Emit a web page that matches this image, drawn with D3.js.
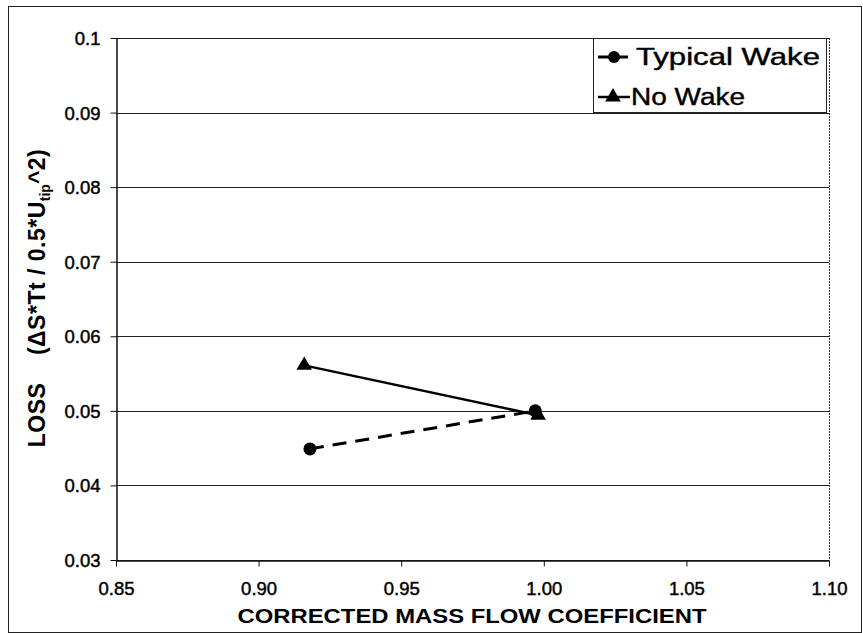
<!DOCTYPE html>
<html>
<head>
<meta charset="utf-8">
<script src="https://cdn.jsdelivr.net/npm/d3@7"></script>
<style>
  html, body { margin: 0; padding: 0; background: #fff; }
  svg { display: block; font-family: "Liberation Sans", Arial, sans-serif; }
  .y-title { white-space: pre; }
  .y-title tspan { font-family: "Liberation Sans", Arial, sans-serif; font-weight: bold; }
</style>
</head>
<body>
<svg id="chart" width="863" height="633"></svg>
<script>
// Loss vs. corrected mass flow coefficient, two wake conditions
const seriesNames = ["Typical Wake", "No Wake"];
const typicalWakeFlow = [0.918, 0.997];
const typicalWakeLoss = [0.0449, 0.0500];
const noWakeFlow = [0.916, 0.998];
const noWakeLoss = [0.0561, 0.0494];
const xTicks = [0.85, 0.90, 0.95, 1.00, 1.05, 1.10];
const yTicks = [0.03, 0.04, 0.05, 0.06, 0.07, 0.08, 0.09, 0.1];

const svg = d3.select("#chart");
const plot = { left: 116, right: 829, top: 38, bottom: 560 };

const x = d3.scaleLinear().domain([0.85, 1.10]).range([plot.left, plot.right]);
const y = d3.scaleLinear().domain([0.03, 0.1]).range([plot.bottom, plot.top]);

// outer frame
svg.append("rect")
  .attr("x", 8.5).attr("y", 6.5).attr("width", 853).attr("height", 626)
  .attr("fill", "none").attr("stroke", "#222").attr("stroke-width", 1);

// horizontal gridlines
svg.append("g").selectAll("line").data(yTicks).join("line")
  .attr("x1", plot.left).attr("x2", plot.right)
  .attr("y1", d => Math.round(y(d)) + 0.5).attr("y2", d => Math.round(y(d)) + 0.5)
  .attr("stroke", "#222").attr("stroke-width", 1);

// right border of plot area
svg.append("line")
  .attr("x1", plot.right + 0.5).attr("x2", plot.right + 0.5)
  .attr("y1", plot.top).attr("y2", plot.bottom)
  .attr("stroke", "#333").attr("stroke-width", 1).attr("stroke-dasharray", "2,1");

// axes
const xAxis = d3.axisBottom(x).tickValues(xTicks).tickFormat(d3.format(".2f"))
  .tickSize(6).tickSizeOuter(0).tickPadding(15);
const gx = svg.append("g").attr("transform", `translate(0,${Math.round(plot.bottom) + 0.5})`).call(xAxis);

const yAxis = d3.axisLeft(y).tickValues(yTicks)
  .tickFormat(d => d === 0.1 ? "0.1" : d3.format(".2f")(d))
  .tickSize(6).tickSizeOuter(0).tickPadding(10);
const gy = svg.append("g").attr("transform", `translate(${plot.left + 0.5},0)`).call(yAxis);

[gx, gy].forEach(g => {
  g.selectAll("path.domain").attr("stroke", "#111").attr("stroke-width", 1.5);
  g.selectAll(".tick line").attr("stroke", "#111");
  g.selectAll(".tick text").attr("font-family", "Liberation Sans, Arial, sans-serif")
    .attr("font-size", 18.5).attr("fill", "#000")
    .attr("stroke", "#000").attr("stroke-width", 0.45);
});
gy.selectAll(".tick text").attr("dy", "0.35em");

// axis titles
svg.append("text")
  .attr("x", 472).attr("y", 623)
  .attr("text-anchor", "middle")
  .attr("font-weight", "bold").attr("font-size", 21)
  .attr("textLength", 469).attr("lengthAdjust", "spacingAndGlyphs")
  .text("CORRECTED MASS FLOW COEFFICIENT");

const yTitle = svg.append("text")
  .attr("class", "y-title")
  .attr("transform", "translate(45,298) rotate(-90)")
  .attr("text-anchor", "middle")
  .attr("font-weight", "bold").attr("font-size", 23)
  .attr("letter-spacing", 0.5);
yTitle.append("tspan").text("LOSS    (\u0394S*Tt / 0.5*U");
yTitle.append("tspan").attr("font-size", 14).attr("letter-spacing", 0).attr("dy", 5).text("tip");
yTitle.append("tspan").attr("dy", -5).text("^2)");

// series
const line = d3.line().x(d => x(d[0])).y(d => y(d[1]));
const typical = typicalWakeFlow.map((v, i) => [v, typicalWakeLoss[i]]);
const noWake = noWakeFlow.map((v, i) => [v, noWakeLoss[i]]);

svg.append("path").datum(typical).attr("d", line)
  .attr("fill", "none").attr("stroke", "#000").attr("stroke-width", 3)
  .attr("stroke-dasharray", "14,9");
svg.append("path").datum(noWake).attr("d", line)
  .attr("fill", "none").attr("stroke", "#000").attr("stroke-width", 2.5);

const tri = d3.symbol().type(d3.symbolTriangle).size(105);
svg.append("g").selectAll("path").data(noWake).join("path")
  .attr("d", tri)
  .attr("transform", d => `translate(${x(d[0])},${y(d[1])})`)
  .attr("fill", "#000");
svg.append("g").selectAll("circle").data(typical).join("circle")
  .attr("cx", d => x(d[0])).attr("cy", d => y(d[1])).attr("r", 6.5)
  .attr("fill", "#000");

// legend
const legend = svg.append("g");
legend.append("rect")
  .attr("x", 593.5).attr("y", 38.5).attr("width", 233).attr("height", 74)
  .attr("fill", "#fff").attr("stroke", "#222").attr("stroke-width", 1);

const rows = [57, 97];
legend.append("line").attr("x1", 598).attr("x2", 628).attr("y1", rows[0]).attr("y2", rows[0])
  .attr("stroke", "#000").attr("stroke-width", 3);
legend.append("circle").attr("cx", 614).attr("cy", rows[0]).attr("r", 6).attr("fill", "#000");
legend.append("line").attr("x1", 598).attr("x2", 630).attr("y1", rows[1]).attr("y2", rows[1])
  .attr("stroke", "#000").attr("stroke-width", 2.5);
legend.append("path").attr("d", tri).attr("transform", `translate(613,${rows[1]})`).attr("fill", "#000");

legend.append("text").attr("x", 636).attr("y", rows[0] + 8)
  .attr("font-size", 23).attr("textLength", 184).attr("lengthAdjust", "spacingAndGlyphs")
  .attr("stroke", "#000").attr("stroke-width", 0.4)
  .text(seriesNames[0]);
legend.append("text").attr("x", 631).attr("y", rows[1] + 8)
  .attr("font-size", 23).attr("textLength", 114).attr("lengthAdjust", "spacingAndGlyphs")
  .attr("stroke", "#000").attr("stroke-width", 0.4)
  .text(seriesNames[1]);
</script>
</body>
</html>
